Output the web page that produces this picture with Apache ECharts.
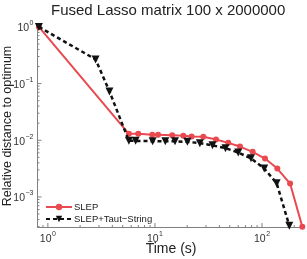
<!DOCTYPE html>
<html>
<head>
<meta charset="utf-8">
<script src="https://cdn.jsdelivr.net/npm/echarts@6/dist/echarts.min.js"></script>
<style>html,body{margin:0;padding:0;background:#fff}#c{width:307px;height:259px}</style>
</head>
<body>
<div id="c"></div>
<script>
var titleText = 'Fused Lasso matrix 100 x 2000000';
var xName = 'Time (s)';
var yName = 'Relative distance to optimum';
var seriesNames = ['SLEP', 'SLEP+Taut\u2212String'];

var slepTime = [0.824, 5.71, 6.98, 9.44, 10.7, 14.5, 18.4, 22.0, 28.3, 37.2, 48.4, 62.3, 81.8, 106.7, 139, 183, 238];
var slepDist = [1.0, 0.0130, 0.0130, 0.01245, 0.01245, 0.0122, 0.0120, 0.0116, 0.0115, 0.0103, 0.0090, 0.00774, 0.00624, 0.00475, 0.00317, 0.00172, 0.000297];

var tautTime = [0.824, 2.79, 3.76, 5.71, 6.60, 9.52, 12.5, 15.4, 20.1, 26.3, 34.5, 45.6, 60.0, 78.9, 105, 137, 180];
var tautDist = [1.0, 0.267, 0.0728, 0.00976, 0.00976, 0.00964, 0.0096, 0.0096, 0.00937, 0.0089, 0.00813, 0.00726, 0.00607, 0.0048, 0.00317, 0.00175, 0.00031];

var xMin = 0.8, xMax = 250;
var yMin = 2.95e-4, yMax = 1.08;
var xMajor = [1, 10, 100];
var xMinor = [0.9, 2, 3, 4, 5, 6, 7, 8, 9, 20, 30, 40, 50, 60, 70, 80, 90, 200];
var yMajor = [1e-3, 1e-2, 1e-1, 1];
var yMinor = [3e-4, 4e-4, 5e-4, 6e-4, 7e-4, 8e-4, 9e-4, 2e-3, 3e-3, 4e-3, 5e-3, 6e-3, 7e-3, 8e-3, 9e-3,
              0.02, 0.03, 0.04, 0.05, 0.06, 0.07, 0.08, 0.09, 0.2, 0.3, 0.4, 0.5, 0.6, 0.7, 0.8, 0.9];

var FONT = '"Liberation Sans", Arial, Helvetica, sans-serif';
var RED = '#e84a4f';
var AXIS = '#808080';

function zip(a, b) { return a.map(function (v, i) { return [v, b[i]]; }); }

function powLabel(v) {
  var e = Math.log10(v);
  var r = Math.round(e);
  if (Math.abs(e - r) > 1e-6) return '';
  var s = r < 0 ? '\u2212' + (-r) : '' + r;
  return '{b|10}{s|' + s + '}';
}
var richLab = {
  b: { fontSize: 10.5, fontFamily: FONT, color: '#333', lineHeight: 14, verticalAlign: 'bottom' },
  s: { fontSize: 7, fontFamily: FONT, color: '#333', lineHeight: 14, verticalAlign: 'top', padding: [0, 0, 0, 0.5] }
};

function tickRender(isX, len) {
  return function (params, api) {
    var v = api.value(isX ? 0 : 1);
    var p = isX ? api.coord([v, yMin]) : api.coord([xMin, v]);
    var shape = isX ? { x1: p[0], y1: p[1], x2: p[0], y2: p[1] - len }
                    : { x1: p[0], y1: p[1], x2: p[0] + len, y2: p[1] };
    return { type: 'line', shape: shape, style: { stroke: AXIS, lineWidth: 1 } };
  };
}

var chart = echarts.init(document.getElementById('c'), null, { renderer: 'canvas' });
chart.setOption({
  animation: false,
  backgroundColor: '#fff',
  title: {
    text: titleText, left: 51, top: 3, padding: 0,
    textStyle: { fontFamily: FONT, fontSize: 15, fontWeight: 'normal', color: '#222' }
  },
  grid: { left: 37.5, right: 2.4, top: 25, bottom: 32, containLabel: false, outerBoundsMode: 'none' },
  legend: {
    orient: 'vertical', left: 45, top: 202, padding: 0, itemWidth: 26, itemHeight: 8, itemGap: 2,
    textStyle: { fontFamily: FONT, fontSize: 9.5, color: '#222', padding: [0, 0, 0, -3] },
    data: seriesNames
  },
  xAxis: {
    type: 'log', logBase: 10, min: xMin, max: xMax,
    name: xName, nameLocation: 'middle', nameGap: 15, nameMoveOverlap: false,
    nameTextStyle: { fontFamily: FONT, fontSize: 14, color: '#222' },
    axisLine: { lineStyle: { color: AXIS, width: 1 } },
    axisTick: { show: false }, minorTick: { show: false }, splitLine: { show: false },
    axisLabel: { formatter: powLabel, rich: richLab, margin: 4, showMinLabel: false, showMaxLabel: false }
  },
  yAxis: {
    type: 'log', logBase: 10, min: yMin, max: yMax,
    name: yName, nameLocation: 'middle', nameGap: 23, nameMoveOverlap: false,
    nameTextStyle: { fontFamily: FONT, fontSize: 12.5, color: '#222' },
    axisLine: { lineStyle: { color: AXIS, width: 1 } },
    axisTick: { show: false }, minorTick: { show: false }, splitLine: { show: false },
    axisLabel: { formatter: powLabel, rich: richLab, margin: 4, showMinLabel: false, showMaxLabel: false }
  },
  series: [
    {
      name: seriesNames[0], type: 'line', data: zip(slepTime, slepDist), clip: false,
      symbol: 'circle', symbolSize: 6, showAllSymbol: true,
      lineStyle: { color: RED, width: 2 }, itemStyle: { color: RED }, z: 3
    },
    {
      name: seriesNames[1], type: 'line', data: zip(tautTime, tautDist), clip: false,
      symbol: 'triangle', symbolRotate: 180, symbolSize: 8, showAllSymbol: true,
      lineStyle: { color: '#111', width: 2.5, type: [4, 3] }, itemStyle: { color: '#111' }, z: 4
    },
    { type: 'custom', silent: true, data: xMajor.map(function (v) { return [v, yMin]; }), renderItem: tickRender(true, 4), z: 1 },
    { type: 'custom', silent: true, data: xMinor.map(function (v) { return [v, yMin]; }), renderItem: tickRender(true, 2), z: 1 },
    { type: 'custom', silent: true, data: yMajor.map(function (v) { return [xMin, v]; }), renderItem: tickRender(false, 4), z: 1 },
    { type: 'custom', silent: true, data: yMinor.map(function (v) { return [xMin, v]; }), renderItem: tickRender(false, 2), z: 1 }
  ]
});
</script>
</body>
</html>
